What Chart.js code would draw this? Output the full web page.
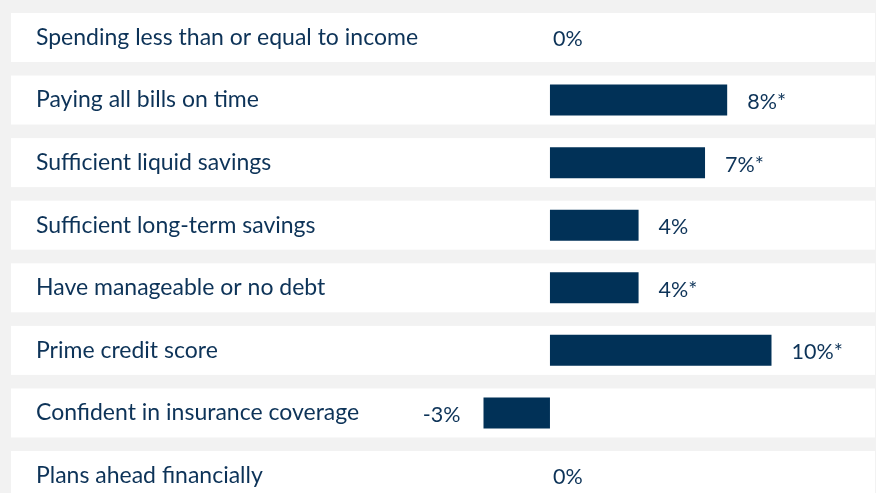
<!DOCTYPE html>
<html>
<head>
<meta charset="utf-8">
<script src="https://cdn.jsdelivr.net/npm/chart.js@4/dist/chart.umd.min.js"></script>
<style>
  html, body { margin: 0; padding: 0; background: #f2f2f2; overflow: hidden; }
  #wrap { position: relative; width: 876px; height: 520px; }
</style>
</head>
<body>
<div id="wrap"><canvas id="chart"></canvas></div>
<script>
// Change in share of households meeting each financial health indicator
const categories = [
  'Spending less than or equal to income',
  'Paying all bills on time',
  'Sufficient liquid savings',
  'Sufficient long-term savings',
  'Have manageable or no debt',
  'Prime credit score',
  'Confident in insurance coverage',
  'Plans ahead financially'
];
const changePct = [0, 8, 7, 4, 4, 10, -3, 0];
const significant = [false, true, true, false, true, true, false, false];
const valueLabels = changePct.map((v, i) => v + '%' + (significant[i] ? '*' : ''));

const NAVY = '#013157';
const TEXT = '#0d3358';
const FONT = 'Lato, "Open Sans", sans-serif';

// White row panels behind each category
const rowPanels = {
  id: 'rowPanels',
  beforeDraw(chart) {
    const { ctx, scales: { y } } = chart;
    ctx.save();
    ctx.fillStyle = '#ffffff';
    categories.forEach((_, i) => {
      const cy = y.getPixelForValue(i);
      ctx.fillRect(11, cy - 24.5, 864, 49);
    });
    ctx.restore();
  }
};

// Value labels next to each bar
const valueText = {
  id: 'valueText',
  afterDatasetsDraw(chart) {
    const { ctx } = chart;
    const meta = chart.getDatasetMeta(0);
    ctx.save();
    ctx.font = '21.5px ' + FONT;
    ctx.fillStyle = TEXT;
    ctx.textBaseline = 'middle';
    meta.data.forEach((bar, i) => {
      const v = changePct[i];
      const yy = bar.y + 2;
      if (v > 0) {
        ctx.textAlign = 'left';
        ctx.fillText(valueLabels[i], bar.x + 20, yy);
      } else if (v < 0) {
        ctx.textAlign = 'right';
        ctx.fillText(valueLabels[i], bar.x - 23, yy);
      } else {
        ctx.textAlign = 'left';
        ctx.fillText(valueLabels[i], bar.x + 3, yy);
      }
    });
    ctx.restore();
  }
};

new Chart(document.getElementById('chart'), {
  type: 'bar',
  data: {
    labels: categories,
    datasets: [{
      data: changePct,
      backgroundColor: NAVY,
      borderWidth: 0,
      inflateAmount: 0,
      barThickness: 31
    }]
  },
  options: {
    indexAxis: 'y',
    responsive: true,
    maintainAspectRatio: false,
    animation: false,
    layout: { padding: { left: 36, right: 60.2, top: 6.2, bottom: 13.2 } },
    plugins: { legend: { display: false }, tooltip: { enabled: false } },
    scales: {
      x: { min: -23.2, max: 12, display: false },
      y: {
        grid: { display: false, drawTicks: false },
        border: { display: false },
        ticks: {
          mirror: true,
          crossAlign: 'near',
          padding: 0,
          color: TEXT,
          font: { family: FONT, size: 23 }
        },
        afterFit(scale) {
          scale.width = 0;
          scale.paddingTop = 0;
          scale.paddingBottom = 0;
        }
      }
    }
  },
  plugins: [rowPanels, valueText]
});
</script>
</body>
</html>
